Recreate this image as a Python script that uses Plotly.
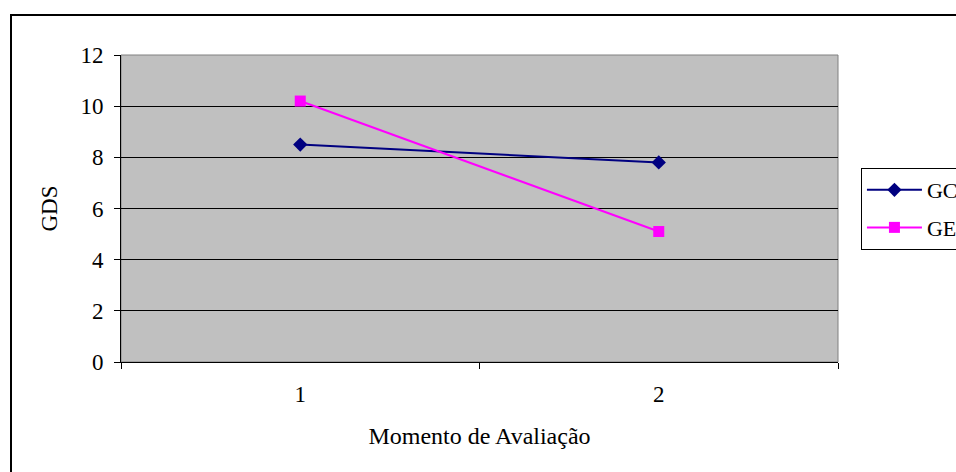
import plotly.graph_objects as go

# Evaluation moments and mean GDS scores per group
moments = ["1", "2"]
gc_values = [8.5, 7.8]
ge_values = [10.2, 5.1]
y_ticks = [0, 2, 4, 6, 8, 10, 12]

FONT = "'Liberation Serif', 'DejaVu Serif', serif"

fig = go.Figure()
fig.add_trace(go.Scatter(
    x=moments, y=gc_values, name="GC", mode="lines+markers",
    line=dict(color="#000080", width=2),
    marker=dict(symbol="diamond", size=11, color="#000080"),
    legendgroup="gc",
))
fig.add_trace(go.Scatter(
    x=moments, y=ge_values, name="GE", mode="lines+markers",
    line=dict(color="#FF00FF", width=2),
    marker=dict(symbol="square", size=11, color="#FF00FF"),
    legendgroup="ge",
))

W, H = 956, 472
ml, mr, mt, mb = 121, 118, 55, 110

fig.update_layout(
    width=W, height=H,
    margin=dict(l=ml, r=mr, t=mt, b=mb, autoexpand=False),
    paper_bgcolor="white",
    plot_bgcolor="#C0C0C0",
    font=dict(family=FONT, size=23, color="black"),
    showlegend=True,
    legend=dict(
        x=1.032, y=0.632, xanchor="left", yanchor="top",
        bgcolor="white", bordercolor="black", borderwidth=1,
        font=dict(family=FONT, size=22, color="black"),
        traceorder="grouped", tracegroupgap=6,
        itemwidth=55,
    ),
    xaxis=dict(
        type="category", range=[-0.5, 1.5],
        tickson="boundaries", ticks="outside", ticklen=6, tickcolor="black",
        showline=True, linecolor="black", linewidth=1,
        showgrid=False, zeroline=False,
        ticklabelstandoff=11,
        tickfont=dict(family=FONT, size=23),
        title=dict(text="Momento de Avaliação", standoff=21,
                   font=dict(family=FONT, size=24)),
    ),
    yaxis=dict(
        range=[0, 12], tickvals=y_ticks,
        ticks="outside", ticklen=6, tickcolor="black",
        showline=True, linecolor="black", linewidth=1,
        showgrid=True, gridcolor="black", gridwidth=1,
        zeroline=False,
        ticklabelstandoff=6,
        tickfont=dict(family=FONT, size=23),
        title=dict(text="GDS", standoff=16,
                   font=dict(family=FONT, size=23)),
    ),
)

# Plot area frame and outer chart border
fig.add_shape(type="rect", xref="paper", yref="paper",
              x0=0, x1=1, y0=0, y1=1,
              line=dict(color="#808080", width=1), layer="below")
fig.add_shape(type="rect", xref="paper", yref="paper",
              x0=(11 - ml) / (W - ml - mr), x1=1.3,
              y0=-0.5, y1=(H - mb - 15) / (H - mt - mb),
              line=dict(color="black", width=2), layer="above")

fig.write_html("out.html")
